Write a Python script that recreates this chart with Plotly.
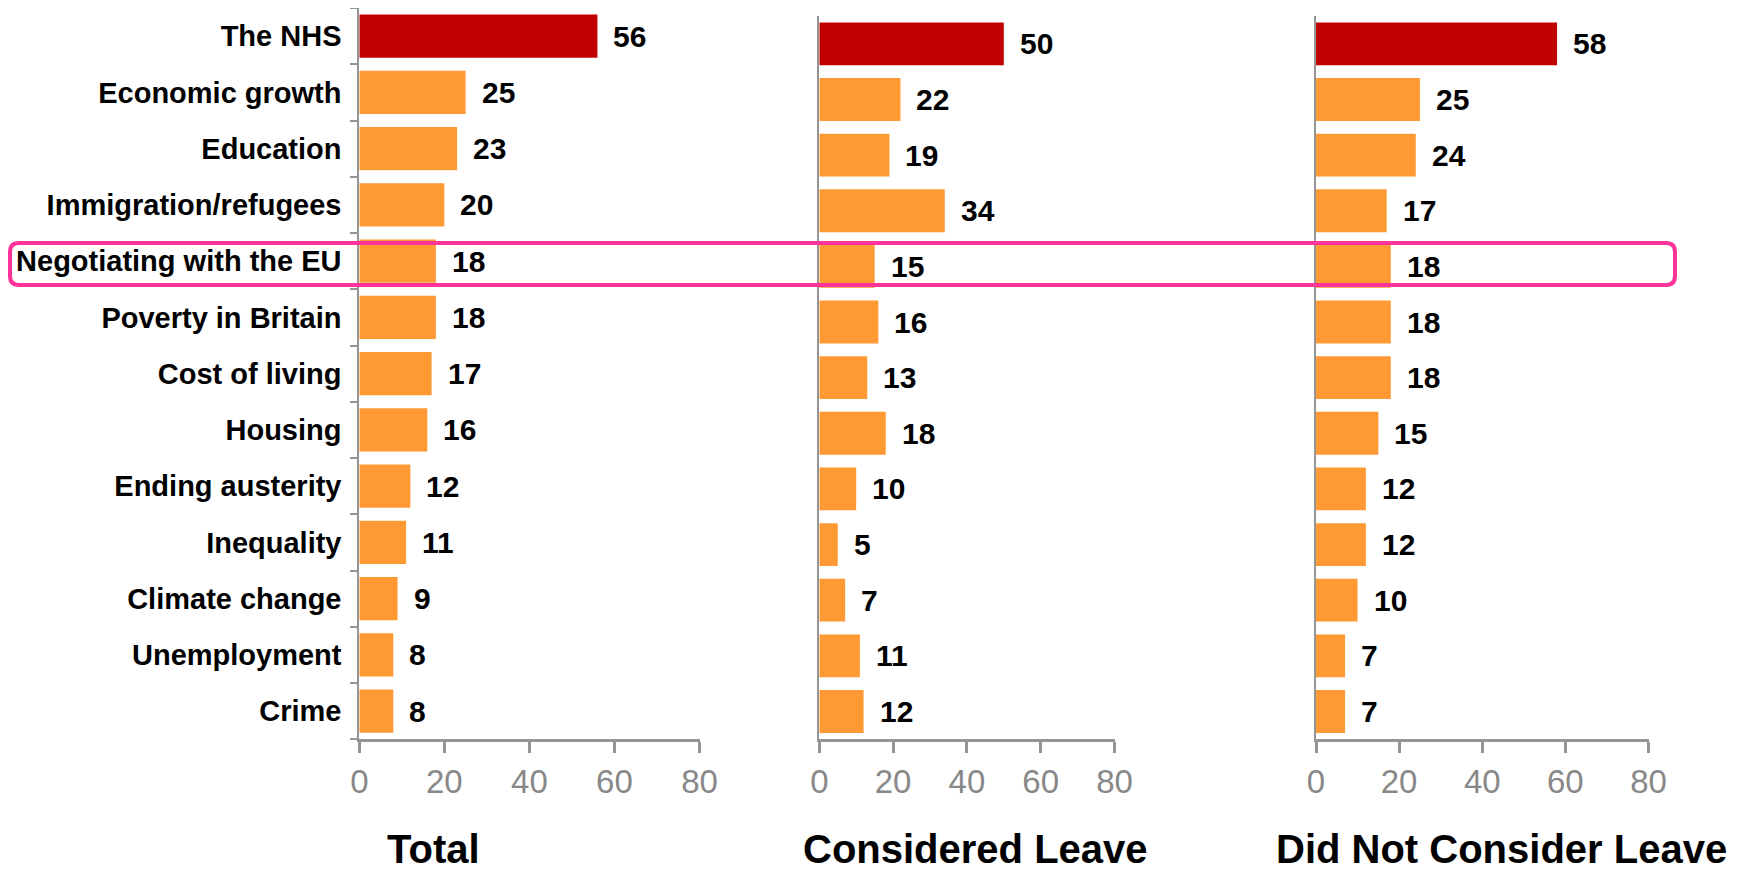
import plotly.graph_objects as go

categories = ["The NHS", "Economic growth", "Education", "Immigration/refugees",
              "Negotiating with the EU", "Poverty in Britain", "Cost of living",
              "Housing", "Ending austerity", "Inequality", "Climate change",
              "Unemployment", "Crime"]
total = [56, 25, 23, 20, 18, 18, 17, 16, 12, 11, 9, 8, 8]
considered_leave = [50, 22, 19, 34, 15, 16, 13, 18, 10, 5, 7, 11, 12]
did_not_consider = [58, 25, 24, 17, 18, 18, 18, 15, 12, 12, 10, 7, 7]
panel_titles = ["Total", "Considered Leave", "Did Not Consider Leave"]
x_ticks = [0, 20, 40, 60, 80]
highlight = "Negotiating with the EU"

# the page body has an 8px default margin, so the figure is drawn 8px in
PAGE_OFF = 8
W, H = 1748 - 2 * PAGE_OFF, 879 - 2 * PAGE_OFF
RED = "#C00000"
ORANGE = "#FF9933"
AXIS = "#959595"
FONT = "Arial, Liberation Sans, sans-serif"

def px(x):
    return (x - PAGE_OFF) / W

def py(y):
    return 1 - (y - PAGE_OFF) / H

series = [total, considered_leave, did_not_consider]
xdomains = [(359.3, 699.5), (819.3, 1114.5), (1316, 1648.5)]
ytops = [7.5, 16, 16]
ybottom = 739.3
title_x = [433, 975, 1501]

fig = go.Figure()
annotations = []
for i, vals in enumerate(series):
    n = "" if i == 0 else str(i + 1)
    colors = [RED if j == 0 else ORANGE for j in range(len(vals))]
    fig.add_trace(go.Bar(
        x=vals, y=categories, orientation="h",
        marker=dict(color=colors, line=dict(width=0)),
        xaxis="x" + n, yaxis="y" + n, showlegend=False, hoverinfo="x+y"))
    for c, v in zip(categories, vals):
        annotations.append(dict(
            x=v, y=c, xref="x" + n, yref="y" + n, text="<b>%d</b>" % v,
            showarrow=False, xanchor="left", yanchor="middle", xshift=14,
            font=dict(family=FONT, size=30, color="#000000")))
    annotations.append(dict(
        x=px(title_x[i]), y=py(849), xref="paper", yref="paper",
        text="<b>%s</b>" % panel_titles[i], showarrow=False,
        xanchor="center", yanchor="middle", borderpad=0,
        font=dict(family=FONT, size=40, color="#000000")))
    fig.layout["xaxis" + n] = dict(
        domain=[max(0, px(xdomains[i][0])), min(1, px(xdomains[i][1]))],
        range=[0, 80],
        anchor="y" + n, tickvals=x_ticks, showgrid=False, zeroline=False,
        showline=True, linecolor=AXIS, linewidth=3, automargin=False,
        ticks="outside", ticklen=11, tickwidth=3, tickcolor=AXIS,
        tickfont=dict(family=FONT, size=33, color="#888888"),
        fixedrange=True)
    ya = dict(
        domain=[py(ybottom), min(1, py(ytops[i]))], anchor="x" + n,
        categoryorder="array", categoryarray=categories, automargin=False,
        autorange="reversed", showgrid=False, zeroline=False,
        showline=True, linecolor=AXIS, linewidth=2, fixedrange=True)
    if i == 0:
        ya.update(ticks="outside", tickson="boundaries", ticklen=7,
                  tickwidth=2, tickcolor=AXIS, ticklabelstandoff=10,
                  tickfont=dict(family=FONT, size=29, color="#000000"),
                  tickvals=categories,
                  ticktext=["<b>%s</b>" % c for c in categories])
    else:
        ya.update(showticklabels=False, ticks="")
    fig.layout["yaxis" + n] = ya

# rounded highlight box around the highlighted category row
x0, x1, y0, y1, r = 10, 1675, 243, 285, 9
path = ("M {a},{b} L {c},{b} Q {d},{b} {d},{e} L {d},{f} Q {d},{g} {c},{g} "
        "L {a},{g} Q {h},{g} {h},{f} L {h},{e} Q {h},{b} {a},{b} Z").format(
    a=px(x0 + r), b=py(y0), c=px(x1 - r), d=px(x1), e=py(y0 + r),
    f=py(y1 - r), g=py(y1), h=px(x0))
fig.add_shape(type="path", path=path, xref="paper", yref="paper",
              line=dict(color="#FF3399", width=4), layer="above")

fig.update_layout(
    width=W, height=H, margin=dict(l=0, r=0, t=0, b=0, autoexpand=False),
    paper_bgcolor="white", plot_bgcolor="white", bargap=0.23,
    annotations=annotations, font=dict(family=FONT))

fig.write_html("out.html")
